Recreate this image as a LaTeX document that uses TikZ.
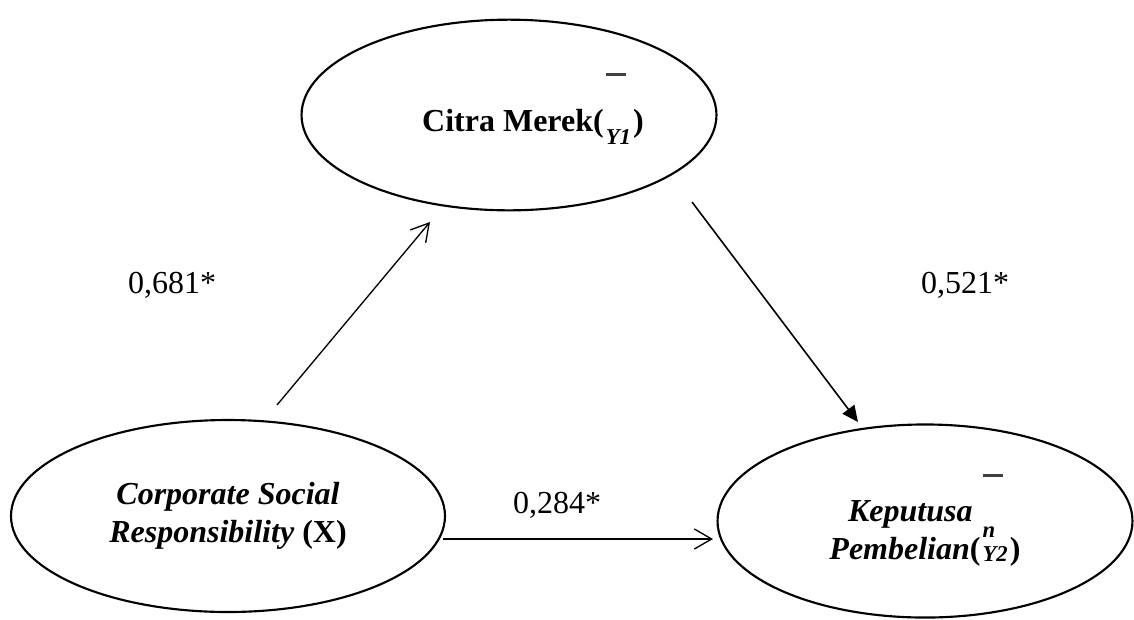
\documentclass[tikz,border=0pt]{standalone}
\usepackage{fontspec}
\setmainfont{Liberation Serif}
\usepackage{tikz}
\usetikzlibrary{shapes,arrows.meta,positioning}

% equation picture pasted after a name (bar, upper letter, variable)
\newcommand{\eqimg}[4]{\makebox[11pt][c]{\fontsize{8.5}{8.5}\selectfont\bfseries\itshape
  \smash{\rlap{\raisebox{#1}{\textcolor{black!75}{\rule{7.5pt}{0.9pt}}}}}%
  \smash{\rlap{\raisebox{8pt}{#2}}}%
  \smash{\raisebox{#4}{#3}}}}

\begin{document}
\begin{tikzpicture}[
    x=0.375pt, y=-0.375pt,
    font=\fontsize{12}{14.2}\selectfont,
    oval/.style={ellipse, draw, line width=0.8pt, inner sep=0pt, minimum width=155.6pt, minimum height=71.5pt, align=center},
    arrow/.style={-{Straight Barb[length=6.5pt, width=7.5pt]}, line width=0.5pt},
    farrow/.style={-{Triangle[length=6pt, width=5.5pt]}, line width=0.6pt}
]
    \useasboundingbox (0,0) rectangle (1134,619);

    % Constructs
    \node[oval] (citra) at (509,115) {\rule{0pt}{15pt}\hspace*{18pt}\textbf{Citra Merek(}\eqimg{21pt}{}{Y1}{-5pt}\textbf{)}};
    \node[oval, minimum width=162.75pt, minimum height=72pt] (csr) at (228,516) {\textbf{\textit{Corporate Social}}\\\textbf{\textit{Responsibility} (X)}};
    \node[oval, minimum height=72.4pt] (kep) at (925,521) {\rule{0pt}{17pt}\textbf{\textit{Keputusa}}\hspace*{11pt}\\\textbf{\textit{Pembelian}(}\eqimg{31pt}{n}{Y2}{-1pt}\textbf{)}};

    % Path coefficients
    \node[anchor=base] (b681) at (172,293) {0,681*};
    \node[anchor=base] (b521) at (965,293) {0,521*};
    \node[anchor=base] (b284) at (557,513) {0,284*};

    % Arrows
    \draw[arrow] ([shift={(49,-111)}]csr.center) -- ([shift={(-79,107)}]citra.center);
    \draw[farrow] ([shift={(183,87)}]citra.center) -- ([shift={(-67,-99)}]kep.center);
    \draw[arrow] ([shift={(215,23)}]csr.center) -- ([shift={(-212,18)}]kep.center);
\end{tikzpicture}
\end{document}
